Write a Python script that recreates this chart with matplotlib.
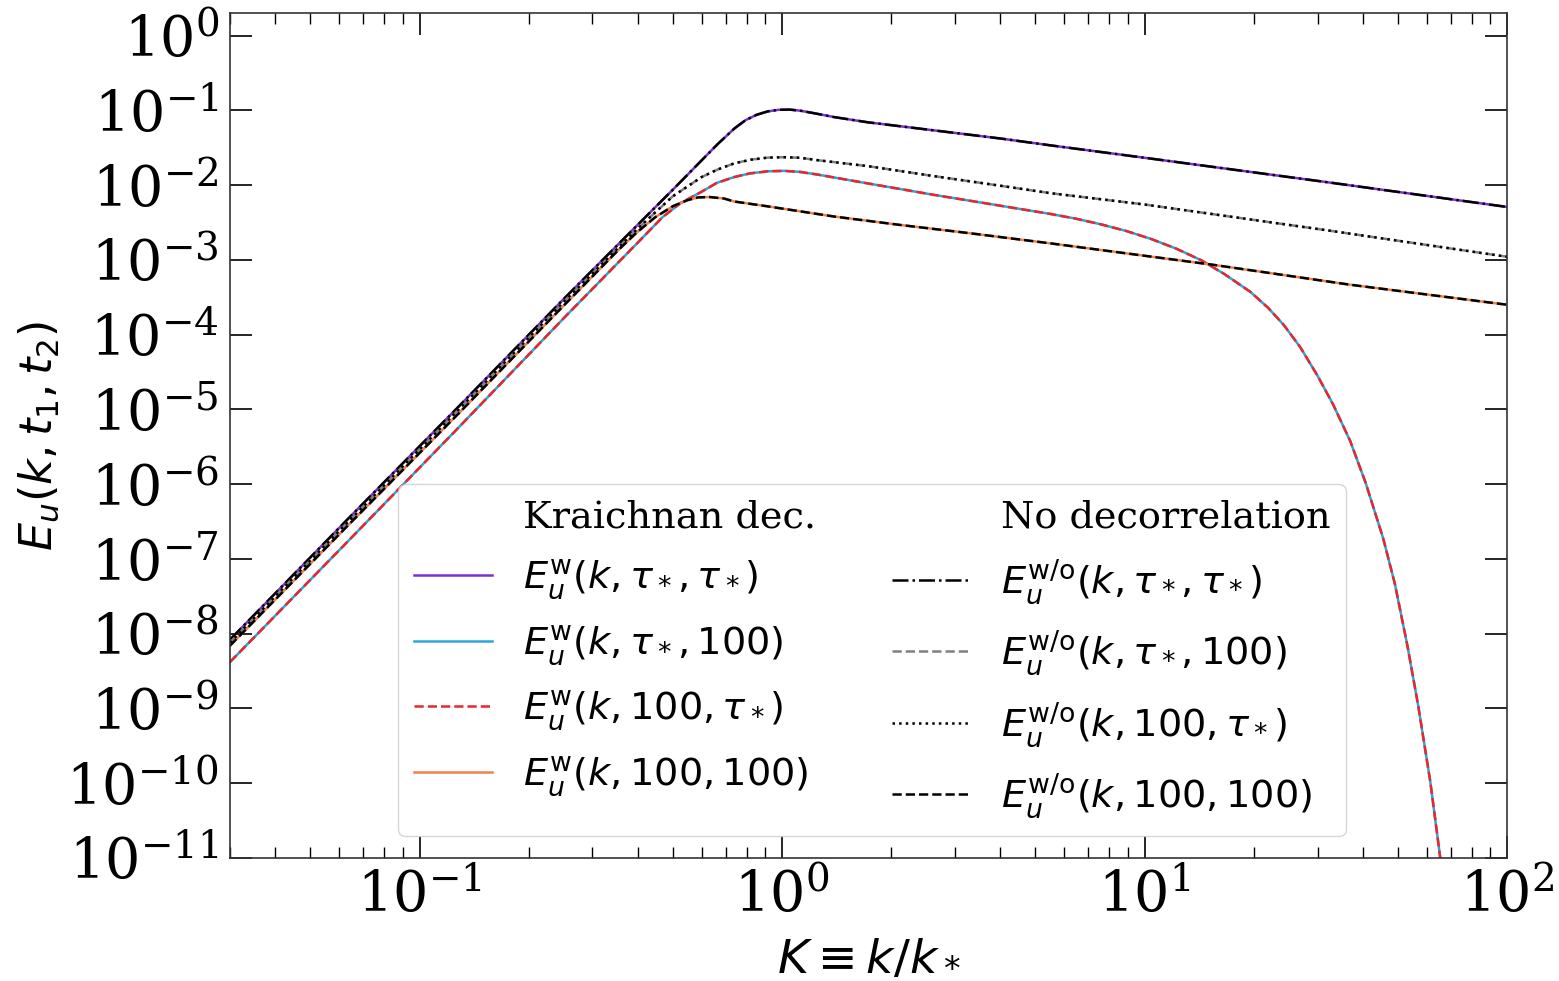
import matplotlib
matplotlib.use("Agg")
import matplotlib.pyplot as plt
from matplotlib.lines import Line2D
from matplotlib.ticker import LogLocator

plt.rcParams['font.family'] = 'serif'
plt.rcParams['mathtext.fontset'] = 'dejavusans'

# values (K = k/k_*, E_u)
# E^w(k,tau*,tau*) and E^w/o(k,tau*,tau*) lie on top of each other
K_a = [0.03, 0.063, 0.126, 0.25, 0.4, 0.5, 0.6, 0.665, 0.74, 0.794, 0.851,
       0.912, 0.977, 1.047, 1.122, 1.23, 1.39, 1.73, 2.62, 4.0, 5.5, 10, 31.6, 100]
E_a = [8.3e-9, 3.3e-7, 1.0e-5, 3.0e-4, 2.95e-3, 8.7e-3, 2.14e-2, 3.55e-2,
       5.75e-2, 7.41e-2, 8.71e-2, 9.66e-2, 0.1016, 0.1023, 0.0989, 0.0912,
       0.0813, 0.069, 0.054, 0.042, 0.034, 0.0232, 0.011, 0.0051]

# E^w/o(k,tau*,100) and E^w/o(k,100,tau*)
K_b = [0.03, 0.063, 0.126, 0.25, 0.4, 0.5, 0.6, 0.665, 0.74, 0.822, 0.914,
       1.014, 1.122, 1.256, 1.73, 2.62, 4.0, 5.5, 10, 31.6, 100]
E_b = [7.6e-9, 3.0e-7, 9.1e-6, 2.75e-4, 2.63e-3, 7.1e-3, 1.28e-2, 1.62e-2,
       1.96e-2, 2.19e-2, 2.33e-2, 2.36e-2, 2.32e-2, 2.15e-2, 1.79e-2, 1.32e-2,
       9.8e-3, 7.8e-3, 5.5e-3, 2.5e-3, 1.1e-3]

# E^w(k,tau*,100) and E^w(k,100,tau*)
K_c = [0.03, 0.063, 0.126, 0.25, 0.398, 0.468, 0.525, 0.598, 0.661, 0.738,
       0.813, 0.914, 1.014, 1.122, 1.256, 1.73, 2.62, 4.0, 5.5, 6.46, 7.57,
       8.91, 10.4, 12.2, 14.3, 16.6, 19.6, 21.9, 24.2, 26.9, 30.0, 33.1, 36.9,
       40.7, 45.5, 49.0, 53.1, 56.9, 61.4, 65.3, 69.2]
E_c = [4.17e-9, 1.66e-7, 5.25e-6, 1.66e-4, 1.66e-3, 3.72e-3, 5.75e-3, 8.07e-3,
       1.07e-2, 1.28e-2, 1.43e-2, 1.53e-2, 1.55e-2, 1.50e-2, 1.38e-2, 1.05e-2,
       7.41e-3, 5.30e-3, 4.11e-3, 3.56e-3, 2.99e-3, 2.43e-3, 1.91e-3, 1.42e-3,
       9.93e-4, 6.46e-4, 3.72e-4, 2.29e-4, 1.35e-4, 6.76e-5, 2.82e-5, 1.17e-5,
       3.8e-6, 1.05e-6, 1.9e-7, 4.7e-8, 6.9e-9, 1.07e-9, 1.05e-10, 1.07e-11,
       1.26e-12]

# E^w(k,100,100) and E^w/o(k,100,100)
K_d = [0.03, 0.063, 0.126, 0.25, 0.355, 0.398, 0.447, 0.501, 0.55, 0.587,
       0.631, 0.692, 0.738, 0.914, 1.39, 2.13, 3.25, 5.51, 15.5, 36.9, 100]
E_d = [6.9e-9, 2.7e-7, 8.1e-6, 2.45e-4, 1.38e-3, 2.34e-3, 3.72e-3, 5.25e-3,
       6.31e-3, 6.84e-3, 6.92e-3, 6.61e-3, 6.03e-3, 5.19e-3, 3.8e-3, 2.92e-3,
       2.29e-3, 1.66e-3, 8.57e-4, 4.65e-4, 2.51e-4]

lab_w = [r'$E_u^{\rm w}(k, \tau_*, \tau_*)$', r'$E_u^{\rm w}(k, \tau_*, 100)$',
         r'$E_u^{\rm w}(k, 100, \tau_*)$', r'$E_u^{\rm w}(k, 100, 100)$']
lab_wo = [r'$E_u^{\rm w/o}(k, \tau_*, \tau_*)$', r'$E_u^{\rm w/o}(k, \tau_*, 100)$',
          r'$E_u^{\rm w/o}(k, 100, \tau_*)$', r'$E_u^{\rm w/o}(k, 100, 100)$']

lw = 1.8
fig = plt.figure(figsize=(15.59, 9.81), dpi=100)
ax = fig.add_axes([0.1475, 0.1254, 0.8192, 0.8613])

h1, = ax.plot(K_a, E_a, color='#7d2fd2', lw=lw, label=lab_w[0])
h2, = ax.plot(K_c, E_c, color='#2aa6dc', lw=lw, label=lab_w[1])
h3, = ax.plot(K_c, E_c, color='#e8262b', lw=lw, ls='--', label=lab_w[2])
h4, = ax.plot(K_d, E_d, color='#f0804a', lw=lw, label=lab_w[3])
h5, = ax.plot(K_a, E_a, color='black', lw=lw, ls='-.', label=lab_wo[0])
h6, = ax.plot(K_b, E_b, color='grey', lw=lw, ls='--', label=lab_wo[1])
h7, = ax.plot(K_b, E_b, color='black', lw=lw, ls=':', label=lab_wo[2])
h8, = ax.plot(K_d, E_d, color='black', lw=lw, ls='--', label=lab_wo[3])

ax.set_xscale('log')
ax.set_yscale('log')
ax.set_xlim(0.03, 100)
ax.set_ylim(1e-11, 2)
ax.yaxis.set_major_locator(LogLocator(base=10, numticks=20))

ax.tick_params(which='both', direction='in', top=True, right=True, labelsize=40)
ax.tick_params(which='major', length=16, width=1.2, pad=8)
ax.tick_params(which='minor', length=8, width=1.0)
for s in ax.spines.values():
    s.set_linewidth(1.2)
    s.set_color('#333333')

ax.set_xlabel(r'$K \equiv k/k_*$', fontsize=34, labelpad=8)
ax.set_ylabel(r'$E_u(k, t_1, t_2)$', fontsize=32, labelpad=4)

blank = Line2D([], [], color='none')
handles = [blank, h1, h2, h3, h4, blank, h5, h6, h7, h8]
labels = ['Kraichnan dec.'] + lab_w + ['No decorrelation'] + lab_wo
ax.legend(handles, labels, ncol=2, fontsize=27.5, loc='lower left',
          bbox_to_anchor=(0.117, 0.003), columnspacing=2.0, handlelength=2.05,
          labelspacing=0.57)

fig.savefig('out.png', dpi=100)
